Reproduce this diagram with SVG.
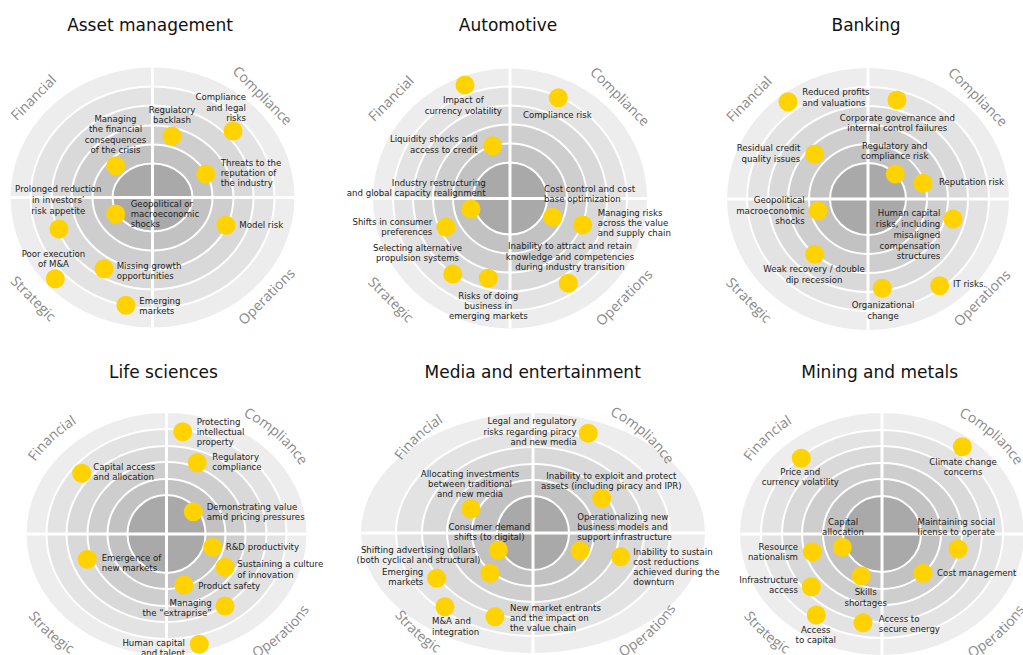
<svg xmlns="http://www.w3.org/2000/svg" width="1023" height="655" viewBox="0 0 1023 655">
<style>
.t{font-family:"DejaVu Sans",Verdana,sans-serif;font-size:17px;fill:#111;text-anchor:middle}
.q{font-family:"Open Sans","DejaVu Sans",sans-serif;font-size:14px;fill:#8a8a8a;text-anchor:middle}
.l{font-family:"DejaVu Sans",Verdana,sans-serif;font-size:8.6px;fill:#1c1c1c}
.m{text-anchor:middle}.e{text-anchor:end}
.dot{fill:#ffd200}
.r0{fill:#ededed}.r1{fill:#e3e3e3}.r2{fill:#d9d9d9}.r3{fill:#cecece}.r4{fill:#c2c2c2}.r5{fill:#a9a9a9}
.ring{stroke:#fff;stroke-width:2}
.axis{stroke:#fff;stroke-width:3;fill:none}
</style>
<defs>
<!-- baselines for the curved quadrant captions of the lower charts -->
<path id="arcF" d="M-154.9 -4.7 A155 136 0 0 1 -21.6 -134.7"/>
<path id="arcC" d="M16.2 -135.3 A155 136 0 0 1 154.6 -9.5"/>
<path id="arcS" d="M-166.8 7.7 A167 147 0 0 0 -20.4 145.9"/>
<path id="arcO" d="M20.4 145.9 A167 147 0 0 0 166.8 7.7"/>
</defs>
<rect width="1023" height="655" fill="#fff"/>

<!-- ============ Asset management ============ -->
<g id="asset-management">
<text class="t" x="150" y="31">Asset management</text>
<g transform="translate(152.5,197.5)">
<ellipse class="r0" rx="142" ry="130"/>
<ellipse class="r1 ring" rx="122" ry="111"/>
<ellipse class="r2 ring" rx="101" ry="92"/>
<ellipse class="r3 ring" rx="81" ry="72"/>
<ellipse class="r4 ring" rx="60" ry="53"/>
<ellipse class="r5 ring" rx="40" ry="34"/>
<path class="axis" d="M-142 0H142M0 -130V130"/>
<text class="q" transform="translate(-119,-100) rotate(-45)" y="5">Financial</text>
<text class="q" transform="translate(110,-102) rotate(45)" y="5">Compliance</text>
<text class="q" transform="translate(-119,101) rotate(45)" y="5">Strategic</text>
<text class="q" transform="translate(114,99) rotate(-45)" y="5">Operations</text>
</g>
<g id="am-regulatory"><circle class="dot" cx="172" cy="136" r="9.5"/><text class="l m"><tspan x="172" y="113">Regulatory</tspan><tspan x="172" y="123">backlash</tspan></text></g>
<g id="am-compliance"><circle class="dot" cx="233" cy="131" r="9.5"/><text class="l e"><tspan x="246" y="100">Compliance</tspan><tspan x="246" y="110.5">and legal</tspan><tspan x="246" y="121">risks</tspan></text></g>
<g id="am-crisis"><circle class="dot" cx="115.7" cy="165.7" r="9.5"/><text class="l m"><tspan x="115.5" y="121.5">Managing</tspan><tspan x="115.5" y="132">the financial</tspan><tspan x="115.5" y="142.5">consequences</tspan><tspan x="115.5" y="153">of the crisis</tspan></text></g>
<g id="am-reputation"><circle class="dot" cx="205.7" cy="174" r="9.5"/><text class="l"><tspan x="220.7" y="166.3">Threats to the</tspan><tspan x="220.7" y="176.3">reputation of</tspan><tspan x="220.7" y="186.3">the industry</tspan></text></g>
<g id="am-appetite"><circle class="dot" cx="59" cy="229" r="9.5"/><text class="l m"><tspan x="58.3" y="192.3">Prolonged reduction</tspan><tspan x="58.3" y="203">in investors’</tspan><tspan x="58.3" y="213.7">risk appetite</tspan></text></g>
<g id="am-geopolitical"><circle class="dot" cx="115.7" cy="214" r="9.5"/><text class="l"><tspan x="130.7" y="207">Geopolitical or</tspan><tspan x="130.7" y="217.3">macroeconomic</tspan><tspan x="130.7" y="227.3">shocks</tspan></text></g>
<g id="am-model"><circle class="dot" cx="226" cy="225.3" r="9.5"/><text class="l" x="239.3" y="228.3">Model risk</text></g>
<g id="am-ma"><circle class="dot" cx="55.3" cy="278.7" r="9.5"/><text class="l m"><tspan x="53.5" y="257">Poor execution</tspan><tspan x="53.5" y="267">of M&amp;A</tspan></text></g>
<g id="am-growth"><circle class="dot" cx="104" cy="268.7" r="9.5"/><text class="l"><tspan x="116.7" y="268.7">Missing growth</tspan><tspan x="116.7" y="279">opportunities</tspan></text></g>
<g id="am-emerging"><circle class="dot" cx="126" cy="305.3" r="9.5"/><text class="l"><tspan x="139.3" y="304">Emerging</tspan><tspan x="139.3" y="314">markets</tspan></text></g>
</g>

<!-- ============ Automotive ============ -->
<g id="automotive">
<text class="t" x="508" y="31">Automotive</text>
<g transform="translate(510,198.5)">
<ellipse class="r0" rx="137" ry="130"/>
<ellipse class="r1 ring" rx="117" ry="112"/>
<ellipse class="r2 ring" rx="97" ry="93"/>
<ellipse class="r3 ring" rx="77" ry="74"/>
<ellipse class="r4 ring" rx="57" ry="55"/>
<ellipse class="r5 ring" rx="37" ry="36"/>
<path class="axis" d="M-137 0H137M0 -130V130"/>
<text class="q" transform="translate(-119,-100) rotate(-45)" y="5">Financial</text>
<text class="q" transform="translate(110,-102) rotate(45)" y="5">Compliance</text>
<text class="q" transform="translate(-119,101) rotate(45)" y="5">Strategic</text>
<text class="q" transform="translate(114,99) rotate(-45)" y="5">Operations</text>
</g>
<g id="au-currency"><circle class="dot" cx="465" cy="85" r="9.5"/><text class="l m"><tspan x="463.3" y="103">Impact of</tspan><tspan x="463.3" y="113.7">currency volatility</tspan></text></g>
<g id="au-compliance"><circle class="dot" cx="558.3" cy="97.7" r="9.5"/><text class="l m" x="557.3" y="118.3">Compliance risk</text></g>
<g id="au-liquidity"><circle class="dot" cx="492.7" cy="145.7" r="9.5"/><text class="l e"><tspan x="477.7" y="142.3">Liquidity shocks and</tspan><tspan x="477.7" y="153">access to credit</tspan></text></g>
<g id="au-restructuring"><circle class="dot" cx="471" cy="209" r="9.5"/><text class="l e"><tspan x="485.7" y="185.7">Industry restructuring</tspan><tspan x="485.7" y="196.3">and global capacity realignment</tspan></text></g>
<g id="au-cost"><circle class="dot" cx="552.7" cy="217.3" r="9.5"/><text class="l"><tspan x="544" y="191.7">Cost control and cost</tspan><tspan x="544" y="202.3">base optimization</tspan></text></g>
<g id="au-supply"><circle class="dot" cx="582.7" cy="225" r="9.5"/><text class="l"><tspan x="597.7" y="215.7">Managing risks</tspan><tspan x="597.7" y="226.3">across the value</tspan><tspan x="597.7" y="236.3">and supply chain</tspan></text></g>
<g id="au-consumer"><circle class="dot" cx="446" cy="227.3" r="9.5"/><text class="l e"><tspan x="432.3" y="224.7">Shifts in consumer</tspan><tspan x="432.3" y="234.7">preferences</tspan></text></g>
<g id="au-propulsion"><circle class="dot" cx="452.7" cy="274" r="9.5"/><text class="l m"><tspan x="417.5" y="250.7">Selecting alternative</tspan><tspan x="417.5" y="260.7">propulsion systems</tspan></text></g>
<g id="au-emerging"><circle class="dot" cx="488.3" cy="278.3" r="9.5"/><text class="l m"><tspan x="488.3" y="299">Risks of doing</tspan><tspan x="488.3" y="309">business in</tspan><tspan x="488.3" y="319">emerging markets</tspan></text></g>
<g id="au-talent"><circle class="dot" cx="568.3" cy="283.3" r="9.5"/><text class="l m"><tspan x="570" y="249">Inability to attract and retain</tspan><tspan x="570" y="259.7">knowledge and competencies</tspan><tspan x="570" y="269.7">during industry transition</tspan></text></g>
</g>

<!-- ============ Banking ============ -->
<g id="banking">
<text class="t" x="866" y="31">Banking</text>
<g transform="translate(868,199)">
<ellipse class="r0" rx="141" ry="131"/>
<ellipse class="r1 ring" rx="121" ry="112"/>
<ellipse class="r2 ring" rx="100" ry="93"/>
<ellipse class="r3 ring" rx="80" ry="74"/>
<ellipse class="r4 ring" rx="59" ry="55"/>
<ellipse class="r5 ring" rx="38" ry="36"/>
<path class="axis" d="M-141 0H141M0 -131V131"/>
<text class="q" transform="translate(-119,-100) rotate(-45)" y="5">Financial</text>
<text class="q" transform="translate(110,-102) rotate(45)" y="5">Compliance</text>
<text class="q" transform="translate(-119,101) rotate(45)" y="5">Strategic</text>
<text class="q" transform="translate(114,99) rotate(-45)" y="5">Operations</text>
</g>
<g id="bk-profits"><circle class="dot" cx="788" cy="101.7" r="9.5"/><text class="l"><tspan x="802.3" y="95.3">Reduced profits</tspan><tspan x="802.3" y="106.3">and valuations</tspan></text></g>
<g id="bk-governance"><circle class="dot" cx="897" cy="100" r="9.5"/><text class="l m"><tspan x="897.3" y="120.7">Corporate governance and</tspan><tspan x="897.3" y="131.3">internal control failures</tspan></text></g>
<g id="bk-credit"><circle class="dot" cx="814.7" cy="154" r="9.5"/><text class="l e"><tspan x="800.3" y="151">Residual credit</tspan><tspan x="800.3" y="161.7">quality issues</tspan></text></g>
<g id="bk-regulatory"><circle class="dot" cx="895.3" cy="174" r="9.5"/><text class="l m"><tspan x="894.7" y="149">Regulatory and</tspan><tspan x="894.7" y="158.7">compliance risk</tspan></text></g>
<g id="bk-reputation"><circle class="dot" cx="923" cy="183.3" r="9.5"/><text class="l" x="939" y="185">Reputation risk</text></g>
<g id="bk-geopolitical"><circle class="dot" cx="818" cy="210.7" r="9.5"/><text class="l e"><tspan x="804.7" y="203">Geopolitical</tspan><tspan x="804.7" y="213.7">macroeconomic</tspan><tspan x="804.7" y="223.7">shocks</tspan></text></g>
<g id="bk-human"><circle class="dot" cx="953" cy="219" r="9.5"/><text class="l e"><tspan x="940.3" y="216.3">Human capital</tspan><tspan x="940.3" y="227">risks, including</tspan><tspan x="940.3" y="238">misaligned</tspan><tspan x="940.3" y="248.7">compensation</tspan><tspan x="940.3" y="259">structures</tspan></text></g>
<g id="bk-recovery"><circle class="dot" cx="814.7" cy="254.3" r="9.5"/><text class="l m"><tspan x="814" y="272.3">Weak recovery / double</tspan><tspan x="814" y="283">dip recession</tspan></text></g>
<g id="bk-organizational"><circle class="dot" cx="882.3" cy="288.3" r="9.5"/><text class="l m"><tspan x="883" y="308">Organizational</tspan><tspan x="883" y="318.7">change</tspan></text></g>
<g id="bk-it"><circle class="dot" cx="939.7" cy="285.7" r="9.5"/><text class="l" x="953" y="287.3">IT risks.</text></g>
</g>

<!-- ============ Life sciences ============ -->
<g id="life-sciences">
<text class="t" x="163.5" y="378">Life sciences</text>
<g transform="translate(166.5,534)">
<ellipse class="r0" rx="140" ry="121"/>
<ellipse class="r1 ring" rx="120" ry="105"/>
<ellipse class="r2 ring" rx="100" ry="88"/>
<ellipse class="r3 ring" rx="79" ry="72"/>
<ellipse class="r4 ring" rx="59" ry="55"/>
<ellipse class="r5 ring" rx="39" ry="39"/>
<path class="axis" d="M-140 0H140M0 -121V121"/>
<text class="q"><textPath href="#arcF" startOffset="50%">Financial</textPath></text>
<text class="q"><textPath href="#arcC" startOffset="50%">Compliance</textPath></text>
<text class="q"><textPath href="#arcS" startOffset="50%">Strategic</textPath></text>
<text class="q"><textPath href="#arcO" startOffset="50%">Operations</textPath></text>
</g>
<g id="ls-ip"><circle class="dot" cx="182.7" cy="431.7" r="9.5"/><text class="l"><tspan x="196.7" y="425.3">Protecting</tspan><tspan x="196.7" y="435.3">intellectual</tspan><tspan x="196.7" y="445.3">property</tspan></text></g>
<g id="ls-regulatory"><circle class="dot" cx="197.3" cy="462.7" r="9.5"/><text class="l"><tspan x="212.3" y="460.3">Regulatory</tspan><tspan x="212.3" y="470.3">compliance</tspan></text></g>
<g id="ls-capital"><circle class="dot" cx="81.7" cy="473.3" r="9.5"/><text class="l"><tspan x="93.3" y="470.3">Capital access</tspan><tspan x="93.3" y="480.3">and allocation</tspan></text></g>
<g id="ls-value"><circle class="dot" cx="193.3" cy="511.7" r="9.5"/><text class="l"><tspan x="206.7" y="510.3">Demonstrating value</tspan><tspan x="206.7" y="520.3">amid pricing pressures</tspan></text></g>
<g id="ls-rd"><circle class="dot" cx="212.7" cy="547.3" r="9.5"/><text class="l" x="225.7" y="550.3">R&amp;D productivity</text></g>
<g id="ls-markets"><circle class="dot" cx="87.3" cy="559.3" r="9.5"/><text class="l"><tspan x="101.7" y="561">Emergence of</tspan><tspan x="101.7" y="571">new markets</tspan></text></g>
<g id="ls-innovation"><circle class="dot" cx="225" cy="567.3" r="9.5"/><text class="l"><tspan x="237.3" y="567.3">Sustaining a culture</tspan><tspan x="237.3" y="578">of innovation</tspan></text></g>
<g id="ls-safety"><circle class="dot" cx="184" cy="585" r="9.5"/><text class="l" x="198.3" y="588.7">Product safety</text></g>
<g id="ls-extraprise"><circle class="dot" cx="225" cy="606" r="9.5"/><text class="l e"><tspan x="211.7" y="605.7">Managing</tspan><tspan x="211.7" y="615.7">the “extraprise”</tspan></text></g>
<g id="ls-talent"><circle class="dot" cx="199.3" cy="644.3" r="9.5"/><text class="l e"><tspan x="185" y="645.7">Human capital</tspan><tspan x="185" y="655.7">and talent</tspan></text></g>
</g>

<!-- ============ Media and entertainment ============ -->
<g id="media-entertainment">
<text class="t" x="532.7" y="378">Media and entertainment</text>
<g transform="translate(533,533)">
<ellipse class="r0" rx="172" ry="120"/>
<ellipse class="r1 ring" rx="137" ry="103"/>
<ellipse class="r2 ring" rx="111" ry="86"/>
<ellipse class="r3 ring" rx="86" ry="69"/>
<ellipse class="r4 ring" rx="61" ry="53"/>
<ellipse class="r5 ring" rx="36" ry="37"/>
<path class="axis" d="M-172 0H172M0 -120V122"/>
<text class="q"><textPath href="#arcF" startOffset="50%">Financial</textPath></text>
<text class="q"><textPath href="#arcC" startOffset="50%">Compliance</textPath></text>
<text class="q"><textPath href="#arcS" startOffset="50%">Strategic</textPath></text>
<text class="q"><textPath href="#arcO" startOffset="50%">Operations</textPath></text>
</g>
<g id="me-legal"><circle class="dot" cx="588.3" cy="433.3" r="9.5"/><text class="l e"><tspan x="576.7" y="423.7">Legal and regulatory</tspan><tspan x="576.7" y="434.7">risks regarding piracy</tspan><tspan x="576.7" y="444.7">and new media</tspan></text></g>
<g id="me-allocating"><circle class="dot" cx="471" cy="509" r="9.5"/><text class="l m"><tspan x="470" y="477">Allocating investments</tspan><tspan x="470" y="487.3">between traditional</tspan><tspan x="470" y="497">and new media</tspan></text></g>
<g id="me-assets"><circle class="dot" cx="601.7" cy="498.3" r="9.5"/><text class="l m"><tspan x="611.3" y="478.7">Inability to exploit and protect</tspan><tspan x="611.3" y="488.7">assets (including piracy and IPR)</tspan></text></g>
<g id="me-consumer"><circle class="dot" cx="498.3" cy="550" r="9.5"/><text class="l m"><tspan x="489.3" y="529.7">Consumer demand</tspan><tspan x="489.3" y="539.7">shifts (to digital)</tspan></text></g>
<g id="me-models"><circle class="dot" cx="580" cy="550.7" r="9.5"/><text class="l"><tspan x="577.3" y="520.3">Operationalizing new</tspan><tspan x="577.3" y="530.3">business models and</tspan><tspan x="577.3" y="540.3">support infrastructure</tspan></text></g>
<g id="me-advertising"><circle class="dot" cx="490" cy="573.3" r="9.5"/><text class="l m"><tspan x="418.5" y="553">Shifting advertising dollars</tspan><tspan x="418.5" y="563">(both cyclical and structural)</tspan></text></g>
<g id="me-emerging"><circle class="dot" cx="436.7" cy="578.3" r="9.5"/><text class="l e"><tspan x="423.3" y="574.7">Emerging</tspan><tspan x="423.3" y="585.3">markets</tspan></text></g>
<g id="me-cost"><circle class="dot" cx="620.7" cy="556.7" r="9.5"/><text class="l"><tspan x="633.3" y="555.3">Inability to sustain</tspan><tspan x="633.3" y="565.3">cost reductions</tspan><tspan x="633.3" y="575.3">achieved during the</tspan><tspan x="633.3" y="585.3">downturn</tspan></text></g>
<g id="me-entrants"><circle class="dot" cx="495" cy="616.7" r="9.5"/><text class="l"><tspan x="510" y="611.3">New market entrants</tspan><tspan x="510" y="621.3">and  the impact on</tspan><tspan x="510" y="630.7">the value chain</tspan></text></g>
<g id="me-ma"><circle class="dot" cx="445" cy="606.7" r="9.5"/><text class="l"><tspan x="432" y="624">M&amp;A and</tspan><tspan x="432" y="634.7">integration</tspan></text></g>
</g>

<!-- ============ Mining and metals ============ -->
<g id="mining-metals">
<text class="t" x="879.7" y="378">Mining and metals</text>
<g transform="translate(882,534)">
<ellipse class="r0" rx="142" ry="121"/>
<ellipse class="r1 ring" rx="121" ry="104"/>
<ellipse class="r2 ring" rx="100" ry="88"/>
<ellipse class="r3 ring" rx="80" ry="71"/>
<ellipse class="r4 ring" rx="59" ry="55"/>
<ellipse class="r5 ring" rx="39" ry="38"/>
<path class="axis" d="M-142 0H142M0 -121V121"/>
<text class="q"><textPath href="#arcF" startOffset="50%">Financial</textPath></text>
<text class="q"><textPath href="#arcC" startOffset="50%">Compliance</textPath></text>
<text class="q"><textPath href="#arcS" startOffset="50%">Strategic</textPath></text>
<text class="q"><textPath href="#arcO" startOffset="50%">Operations</textPath></text>
</g>
<g id="mm-price"><circle class="dot" cx="801.3" cy="458.3" r="9.5"/><text class="l m"><tspan x="800.3" y="475.3">Price and</tspan><tspan x="800.3" y="485.3">currency volatility</tspan></text></g>
<g id="mm-climate"><circle class="dot" cx="962.3" cy="446.7" r="9.5"/><text class="l m"><tspan x="963" y="464.7">Climate change</tspan><tspan x="963" y="474.7">concerns</tspan></text></g>
<g id="mm-capital-allocation"><circle class="dot" cx="842.3" cy="547.3" r="9.5"/><text class="l m"><tspan x="843" y="525.3">Capital</tspan><tspan x="843" y="535.3">allocation</tspan></text></g>
<g id="mm-license"><circle class="dot" cx="958" cy="549" r="9.5"/><text class="l m"><tspan x="956.3" y="525.3">Maintaining social</tspan><tspan x="956.3" y="534.7">license to operate</tspan></text></g>
<g id="mm-nationalism"><circle class="dot" cx="812.3" cy="551.7" r="9.5"/><text class="l e"><tspan x="798" y="549.7">Resource</tspan><tspan x="798" y="559.7">nationalism</tspan></text></g>
<g id="mm-skills"><circle class="dot" cx="861.3" cy="576" r="9.5"/><text class="l m"><tspan x="865.7" y="595.3">Skills</tspan><tspan x="865.7" y="605.7">shortages</tspan></text></g>
<g id="mm-cost"><circle class="dot" cx="923" cy="573.3" r="9.5"/><text class="l" x="937" y="575.7">Cost management</text></g>
<g id="mm-infrastructure"><circle class="dot" cx="811.3" cy="586.7" r="9.5"/><text class="l e"><tspan x="798" y="583">Infrastructure</tspan><tspan x="798" y="593">access</tspan></text></g>
<g id="mm-capital"><circle class="dot" cx="816.3" cy="615" r="9.5"/><text class="l m"><tspan x="815.7" y="633">Access</tspan><tspan x="815.7" y="643">to capital</tspan></text></g>
<g id="mm-energy"><circle class="dot" cx="863" cy="622.7" r="9.5"/><text class="l"><tspan x="878.7" y="621.7">Access to</tspan><tspan x="878.7" y="632">secure energy</tspan></text></g>
</g>
</svg>
